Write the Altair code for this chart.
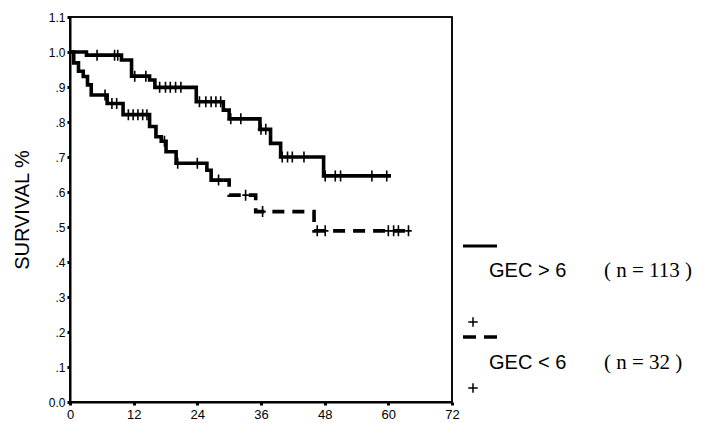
import altair as alt
import pandas as pd
import numpy as np

# ---- data ----
# GEC > 6  (n = 113): step times (months) and survival after each step
upper_times = [0.0, 3.1, 9.7, 11.6, 15.0, 16.0, 23.8, 28.9, 30.0, 35.8, 37.8, 39.7, 47.8]
upper_surv = [1.0, 0.991, 0.977, 0.931, 0.920, 0.899, 0.858, 0.834, 0.809, 0.779, 0.739, 0.700, 0.646]
upper_end = 60.5
upper_censor = [5.1, 8.4, 9.0, 12.2, 14.3, 16.9, 18.0, 18.9, 19.9, 20.9, 24.4, 25.6, 26.6,
                27.5, 28.4, 30.3, 32.2, 36.0, 36.9, 40.0, 41.0, 41.9, 44.1, 48.1, 50.0,
                51.0, 56.9, 59.7]

# GEC < 6  (n = 32)
lower_times = [0.0, 0.7, 1.6, 2.5, 3.3, 4.0, 7.0, 10.0, 15.0, 16.2, 17.2, 18.1, 20.0, 25.8,
               26.6, 30.0, 35.0, 46.0]
lower_surv = [1.0, 0.969, 0.945, 0.930, 0.906, 0.877, 0.853, 0.821, 0.787, 0.758, 0.745,
              0.715, 0.682, 0.662, 0.634, 0.591, 0.544, 0.489]
lower_end = 64.4
lower_censor = [6.6, 7.9, 8.8, 11.0, 11.9, 12.8, 13.7, 14.5, 17.8, 20.3, 24.0, 28.0, 33.1,
                36.3, 46.6, 48.1, 60.0, 61.0, 61.9, 63.8]

x_ticks = [0, 12, 24, 36, 48, 60, 72]
y_ticks = [0.0, 0.1, 0.2, 0.3, 0.4, 0.5, 0.6, 0.7, 0.8, 0.9, 1.0, 1.1]
y_tick_labels = ["0.0", ".1", ".2", ".3", ".4", ".5", ".6", ".7", ".8", ".9", "1.0", "1.1"]

legend_labels = ["GEC > 6", "GEC < 6"]
legend_counts = ["( n = 113 )", "( n = 32 )"]

LOWER_DASH_FROM = 29.0  # the lower curve prints solid first, dashed after


def level_at(times, surv, t):
    i = int(np.searchsorted(np.array(times), t, side="right")) - 1
    return surv[max(i, 0)]


def curve_df(times, surv, end, t0=None, t1=None):
    rows = []
    for t, s in zip(times, surv):
        rows.append((t, s))
    rows.append((end, surv[-1]))
    if t0 is not None or t1 is not None:
        lo = t0 if t0 is not None else -1
        hi = t1 if t1 is not None else 1e9
        sel = [(t, s) for t, s in rows if lo <= t <= hi]
        if t0 is not None:
            sel = [(t0, level_at(times, surv, t0))] + [r for r in sel if r[0] > t0]
        if t1 is not None:
            sel = sel + [(t1, level_at(times, surv, t1))]
        rows = sel
    return pd.DataFrame(rows, columns=["t", "s"])


up_df = curve_df(upper_times, upper_surv, upper_end)
low_solid = curve_df(lower_times, lower_surv, lower_end, t1=LOWER_DASH_FROM)
low_dash = curve_df(lower_times, lower_surv, lower_end, t0=LOWER_DASH_FROM)

cens_df = pd.DataFrame(
    [(t, level_at(upper_times, upper_surv, t)) for t in upper_censor]
    + [(t, level_at(lower_times, lower_surv, t)) for t in lower_censor],
    columns=["t", "s"],
)

FONT = "Liberation Sans"

label_map = "{" + ", ".join(f"'{v:.1f}': '{l}'" for v, l in zip(y_ticks, y_tick_labels)) + "}"

x_enc = alt.X(
    "t:Q",
    scale=alt.Scale(domain=[0, 72], nice=False, zero=False),
    axis=alt.Axis(
        values=x_ticks, title=None, grid=False, labelFont=FONT, labelFontSize=13,
        labelColor="black", labelPadding=3, tickSize=3, tickWidth=3, tickColor="black",
        domainColor="black", domainWidth=2, labelFlush=False, labelOverlap=False,
    ),
)
y_enc = alt.Y(
    "s:Q",
    scale=alt.Scale(domain=[0, 1.1], nice=False, zero=False),
    axis=alt.Axis(
        values=y_ticks, title="SURVIVAL %", grid=False, labelFont=FONT, labelFontSize=12,
        labelColor="black", labelPadding=2, tickSize=3, tickWidth=3, tickColor="black",
        domainColor="black", domainWidth=2, labelFlush=False, labelOverlap=False,
        labelBound=False, tickCount=12,
        labelExpr=label_map + "[format(datum.value, '.1f')]",
        titleFont=FONT, titleFontSize=20, titleFontWeight="normal", titleColor="black",
        titlePadding=16,
    ),
)

LW = 3.6
upper_line = alt.Chart(up_df).mark_line(interpolate="step-after", color="black", strokeWidth=LW).encode(x=x_enc, y=y_enc)
lower_line1 = alt.Chart(low_solid).mark_line(interpolate="step-after", color="black", strokeWidth=LW).encode(x=x_enc, y=y_enc)
lower_line2 = alt.Chart(low_dash).mark_line(interpolate="step-after", color="black", strokeWidth=LW, strokeDash=[12, 8]).encode(x=x_enc, y=y_enc)

censor = alt.Chart(cens_df).mark_point(
    shape="M-0.6,0H0.6M0,-1V1", size=120, stroke="black", strokeWidth=1.6, filled=False, opacity=1
).encode(x=x_enc, y=y_enc)

one = pd.DataFrame({"k": [0]})

frame = alt.Chart(one).mark_rect(fill=None, stroke="black", strokeWidth=1.5).encode(
    x=alt.value(0), x2=alt.value(382), y=alt.value(0), y2=alt.value(385))


def txt(text, x, y, size, font):
    return alt.Chart(one).mark_text(
        text=text, align="left", baseline="middle", font=font, fontSize=size, color="black"
    ).encode(x=alt.value(x), y=alt.value(y))


def plus(x, y):
    return alt.Chart(one).mark_point(
        shape="M-1,0H1M0,-1V1", size=90, stroke="black", strokeWidth=1.5, filled=False, opacity=1
    ).encode(x=alt.value(x), y=alt.value(y))


leg_solid = alt.Chart(one).mark_rule(color="black", strokeWidth=3).encode(
    x=alt.value(393), x2=alt.value(427), y=alt.value(229))
leg_dash = alt.Chart(one).mark_rule(color="black", strokeWidth=3.5, strokeDash=[13, 8]).encode(
    x=alt.value(393), x2=alt.value(427), y=alt.value(320))

chart = alt.layer(
    frame,
    upper_line, lower_line1, lower_line2, censor,
    leg_solid,
    txt(legend_labels[0], 419, 254, 20, FONT),
    txt(legend_counts[0], 534, 254, 21, "Liberation Serif"),
    plus(403, 305),
    leg_dash,
    txt(legend_labels[1], 419, 346, 20, FONT),
    txt(legend_counts[1], 534, 346, 21, "Liberation Serif"),
    plus(403, 371),
).properties(
    width=382, height=385,
    padding={"left": 62, "top": 9, "right": 253, "bottom": 20},
    autosize=alt.AutoSizeParams(type="none"),
    background="white",
).configure_view(
    stroke="black", strokeWidth=1.5
)

chart.save("out.html", embed_options={"renderer": "svg", "actions": False})
